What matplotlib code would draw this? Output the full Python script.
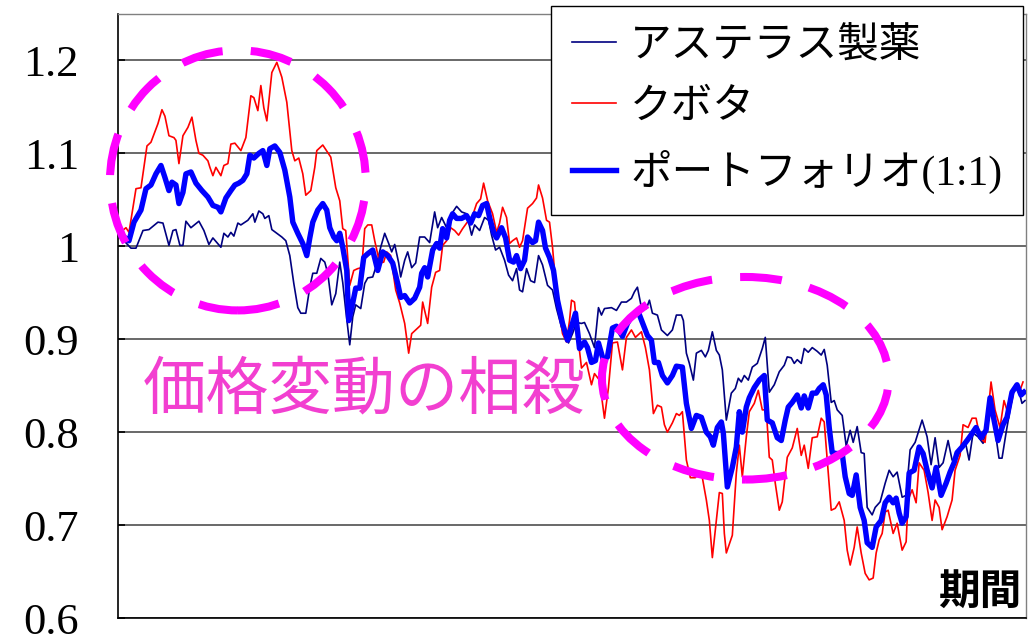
import matplotlib
matplotlib.use('Agg')
import matplotlib.pyplot as plt
from matplotlib.patches import Ellipse

plt.rcParams['font.family'] = ['Liberation Serif', 'Noto Sans CJK JP']

# アステラス製薬 (営業日, 相対価格)
astellas_day = [0, 1.25, 3, 4.25, 6, 7.5, 9.75, 11, 12.5, 13.5, 14.25, 15.25, 16, 16.75, 18, 20,
                21.25, 22.5, 23.5, 25.5, 26.25, 27.25, 28, 28.75, 29.75, 30.5, 32.25, 33.5, 34, 35,
                36, 36.5, 37.5, 38.25, 39.5, 40.75, 41.75, 42.75, 43.75, 44.75, 45.5, 46.75, 47.75,
                48.5, 49.5, 50.5, 51.5, 52.25, 53.25, 54.25, 55.25, 56, 56.75, 57.75, 58.5, 59.25,
                60.5, 61.5, 62.25, 63.5, 64.25, 65.5, 66.5, 67.5, 68.25, 69, 70, 70.5, 71.5, 72.25,
                73.25, 74.25, 75.25, 76.5, 77.75, 79, 79.75, 80.75, 82, 83.25, 84.5, 85.75, 87,
                88.25, 89, 90.25, 91.5, 92.5, 93.25, 94.25, 95.25, 96.5, 97.5, 98.5, 99.5, 100.25,
                101, 102, 103, 104, 105, 106, 107.25, 108.5, 109.5, 110.75, 112, 112.5, 113.5,
                114.5, 115.75, 116.5, 117.75, 119, 120, 120.75, 121.5, 123.25, 124.5, 125.75, 127,
                128.25, 129, 129.75, 130.75, 132, 132.75, 133.5, 134.75, 135.75, 137.25, 138.5,
                139.5, 140.75, 141.25, 142, 142.75, 143.75, 144.5, 145.75, 146.75, 147.5, 148.5,
                149.5, 150.25, 151, 152, 153.25, 154.25, 155, 155.75, 156.5, 157.5, 158.5, 159.75,
                161, 161.75, 162.75, 164, 165.25, 166.5, 167.25, 168.25, 169, 169.75, 170.75,
                171.5, 172.5, 173.5, 174.75, 175.75, 176.5, 177.25, 178.25, 179, 179.75, 181, 182,
                183, 183.75, 184.75, 185.75, 186.5, 187.25, 188.5, 189.25, 190.5, 191.75, 192.75,
                193.75, 194.75, 196, 197, 198, 199.25, 201, 202.25, 203.25, 204.25, 205.25, 206.25,
                207.5, 208.5, 209.75, 211, 211.75, 212.75, 213.75, 215, 216.25, 217.5, 218.25,
                219.25, 220.25, 221, 222, 223, 224, 225, 226, 226.75]
astellas = [1.010, 1.006, 0.998, 0.998, 1.017, 1.018, 1.026, 1.025, 1.001, 1.017, 1.018, 1.001,
            1.001, 1.027, 1.020, 1.027, 1.017, 1.002, 1.009, 0.999, 1.014, 1.010, 1.015, 1.011,
            1.025, 1.023, 1.028, 1.035, 1.026, 1.038, 1.035, 1.030, 1.033, 1.018, 1.014, 1.010,
            1.006, 0.990, 0.960, 0.934, 0.928, 0.928, 0.956, 0.971, 0.971, 0.987, 0.983, 0.971,
            0.937, 0.949, 0.983, 0.961, 0.931, 0.894, 0.924, 0.937, 0.933, 0.960, 0.966, 0.967,
            0.977, 0.999, 1.014, 1.003, 0.994, 1.002, 0.982, 0.967, 0.985, 0.994, 0.977, 0.982,
            1.010, 1.010, 1.004, 1.037, 1.020, 1.031, 1.020, 1.035, 1.043, 1.037, 1.035, 1.012,
            1.023, 1.017, 1.031, 1.028, 1.012, 0.996, 0.999, 0.985, 0.969, 0.963, 0.976, 0.953,
            0.951, 0.976, 0.963, 0.961, 0.990, 0.980, 0.958, 0.953, 0.933, 0.913, 0.902, 0.896,
            0.906, 0.918, 0.917, 0.918, 0.906, 0.891, 0.934, 0.926, 0.933, 0.934, 0.931, 0.940,
            0.940, 0.944, 0.951, 0.956, 0.934, 0.933, 0.942, 0.928, 0.926, 0.910, 0.904, 0.910,
            0.926, 0.926, 0.920, 0.885, 0.874, 0.856, 0.885, 0.888, 0.881, 0.888, 0.908, 0.888,
            0.883, 0.867, 0.813, 0.842, 0.847, 0.858, 0.854, 0.861, 0.856, 0.870, 0.874, 0.890,
            0.902, 0.843, 0.851, 0.865, 0.872, 0.881, 0.880, 0.874, 0.878, 0.874, 0.890, 0.886,
            0.891, 0.887, 0.883, 0.889, 0.872, 0.832, 0.834, 0.824, 0.818, 0.785, 0.802, 0.789,
            0.806, 0.778, 0.777, 0.719, 0.711, 0.719, 0.725, 0.745, 0.759, 0.752, 0.757, 0.730,
            0.732, 0.781, 0.789, 0.813, 0.795, 0.765, 0.794, 0.762, 0.767, 0.791, 0.770, 0.773,
            0.783, 0.791, 0.770, 0.799, 0.795, 0.788, 0.813, 0.837, 0.802, 0.772, 0.772, 0.799,
            0.824, 0.847, 0.848, 0.831, 0.834]

# クボタ
kubota_day = [0, 1.75, 2.5, 4.25, 5.5, 7, 8, 9.75, 10.75, 11.5, 12.5, 13.75, 14.25, 15, 16, 17.25,
              18.25, 19.25, 20, 21, 22.25, 22.75, 23.5, 24.25, 25.5, 26.25, 27.25, 28, 29, 30.5,
              31.75, 33, 33.75, 34.75, 35.5, 36.25, 37, 38.25, 39.5, 40.75, 42, 43.25, 44, 45, 46,
              46.75, 48, 49, 49.5, 51, 52.25, 53, 54.25, 55.25, 56, 56.75, 57.75, 58.75, 59.75,
              60.75, 61.5, 62.25, 63.25, 64, 65.25, 66.25, 67, 68, 69.25, 70.25, 71.5, 72.5, 73.25,
              74.25, 75.5, 76, 77.25, 78.25, 79.25, 80.25, 81, 82, 83, 84, 85, 86, 87, 88, 88.5,
              89.5, 90.5, 91.25, 92.25, 93.5, 94.5, 95.25, 96, 97, 97.75, 98.5, 99.5, 100.25, 101,
              102.25, 103.5, 104.5, 105, 106, 107, 107.75, 108.5, 109.5, 110.25, 111, 112, 112.75,
              113.25, 114, 114.75, 115.75, 117, 118.25, 119, 120.25, 121.5, 122.5, 123.5, 124.75,
              126, 127, 128.25, 129.25, 130.75, 131.75, 132.75, 133.75, 134.75, 135.75, 136.5,
              137.25, 138.5, 139.5, 140.25, 141, 142, 143, 144.25, 145, 146, 147, 147.75, 148.5,
              149.5, 150.25, 151, 151.5, 152, 153.5, 154.5, 155.25, 156, 157, 157.75, 159, 160,
              161, 162, 162.75, 163.5, 164.25, 165.25, 166, 167.25, 168.5, 169.75, 170.75, 171.5,
              172.5, 173.5, 174.75, 175.75, 176.5, 177.25, 178.25, 179.25, 180.25, 181.5, 182.25,
              183, 184, 184.75, 185.75, 186.75, 187.75, 188.75, 189.5, 190.25, 191, 191.75, 192.5,
              193.75, 194.75, 196, 197, 197.5, 198.5, 199.5, 200.25, 201.5, 202.5, 203.5, 204.25,
              205.25, 206, 207.25, 208.5, 209.25, 210.5, 211.25, 212.5, 213.5, 214.5, 215.5,
              216.75, 218.25, 219.25, 220.5, 221.5, 222.5, 223.5, 224.25, 225.25, 226.25]
kubota = [1.014, 1.020, 1.015, 1.062, 1.063, 1.108, 1.112, 1.132, 1.147, 1.140, 1.119, 1.117,
          1.114, 1.089, 1.119, 1.128, 1.139, 1.114, 1.100, 1.098, 1.092, 1.085, 1.076, 1.085,
          1.076, 1.087, 1.089, 1.110, 1.111, 1.103, 1.117, 1.162, 1.160, 1.146, 1.173, 1.149,
          1.135, 1.187, 1.198, 1.182, 1.155, 1.103, 1.092, 1.095, 1.078, 1.055, 1.060, 1.085,
          1.103, 1.109, 1.101, 1.096, 1.063, 1.049, 1.019, 1.017, 0.958, 0.974, 0.976, 0.977,
          1.019, 1.023, 1.023, 1.006, 0.982, 0.983, 0.994, 0.990, 0.953, 0.939, 0.917, 0.885,
          0.906, 0.910, 0.915, 0.940, 0.917, 0.956, 0.972, 0.974, 1.001, 1.006, 1.020, 1.017,
          1.012, 1.019, 1.025, 1.030, 1.033, 1.046, 1.051, 1.068, 1.049, 1.035, 1.015, 1.025,
          1.042, 1.031, 1.003, 1.006, 1.009, 0.999, 1.006, 1.041, 1.046, 1.052, 1.066, 1.052,
          1.028, 1.026, 0.999, 0.949, 0.928, 0.906, 0.897, 0.920, 0.942, 0.940, 0.906, 0.869,
          0.875, 0.851, 0.863, 0.856, 0.815, 0.848, 0.896, 0.897, 0.867, 0.902, 0.910, 0.902,
          0.908, 0.891, 0.867, 0.820, 0.829, 0.827, 0.808, 0.800, 0.810, 0.820, 0.818, 0.822,
          0.770, 0.751, 0.751, 0.756, 0.751, 0.727, 0.705, 0.665, 0.705, 0.735, 0.734, 0.691,
          0.670, 0.689, 0.756, 0.786, 0.752, 0.795, 0.822, 0.831, 0.845, 0.824, 0.824, 0.773,
          0.770, 0.745, 0.716, 0.725, 0.773, 0.783, 0.804, 0.775, 0.786, 0.761, 0.794, 0.795,
          0.815, 0.811, 0.770, 0.716, 0.718, 0.725, 0.705, 0.673, 0.657, 0.676, 0.698, 0.670,
          0.648, 0.641, 0.643, 0.670, 0.684, 0.691, 0.714, 0.716, 0.691, 0.702, 0.673, 0.682,
          0.727, 0.738, 0.724, 0.767, 0.759, 0.735, 0.705, 0.727, 0.719, 0.695, 0.709, 0.727,
          0.759, 0.775, 0.808, 0.805, 0.815, 0.815, 0.794, 0.789, 0.854, 0.824, 0.805, 0.834,
          0.820, 0.834, 0.851, 0.842, 0.854]

# ポートフォリオ(1:1)
port_day = [0, 1.25, 2.5, 3.75, 5.5, 6.75, 8, 9.25, 10.5, 11.5, 12.5, 13.25, 14.25, 15, 16, 16.75,
            18, 19.25, 20.75, 22.25, 23.5, 24.75, 25.5, 26.75, 28, 29, 30, 31, 32, 32.75, 33.75,
            35, 36, 37, 37.75, 39, 40.25, 41.5, 42.75, 43.5, 44.75, 46, 47, 47.75, 48.5, 49.75,
            51, 52, 52.75, 53.75, 54.5, 55.25, 56, 57, 57.5, 58.5, 59.25, 60.25, 61.25, 62.25,
            63.5, 64.75, 66, 67.25, 68.5, 69.75, 70.5, 71.5, 72.75, 74, 75.25, 75.75, 76.5,
            77.25, 78.5, 79.5, 80.25, 81, 82, 82.75, 83.5, 84.5, 85.75, 87, 88, 89, 90, 91, 92,
            92.75, 93.75, 94.5, 95.75, 96.75, 97.75, 98.75, 99.5, 100.5, 101.5, 102.25, 103.5,
            104.25, 105, 106, 106.75, 107.75, 108.75, 109.75, 111, 112.25, 113.5, 114.25, 115.25,
            116.5, 117.25, 118.25, 119.25, 120, 121.25, 122.25, 123.5, 124.5, 126, 127.25, 128.5,
            130, 131, 132.25, 133.25, 134, 135, 136, 137.25, 138.5, 139.5, 141, 142, 143.25,
            144.5, 145.75, 147, 148, 148.75, 149.75, 150.75, 151.25, 152.25, 153.5, 154.5,
            155.25, 156, 157, 157.75, 159, 160.25, 161.5, 162.25, 163.5, 164.75, 165.75, 166.75,
            167.5, 168.5, 169.75, 170.75, 171.5, 172.5, 173.5, 174.5, 175.25, 176.25, 177,
            177.75, 178.5, 179.5, 181, 181.75, 182.75, 183.5, 184.5, 185.5, 186.5, 187.25,
            188.5, 189.5, 190.75, 191.75, 192.75, 193.75, 194.5, 195.25, 196, 197, 197.75, 199,
            200.25, 201.25, 202.25, 203.5, 204.5, 205.75, 207, 208, 209, 209.75, 211, 212.25,
            213.25, 214.5, 215.75, 217, 218, 219, 220, 221.25, 222.25, 223.5, 224.75, 225.75,
            226.5]
port = [1.015, 1.010, 1.006, 1.026, 1.039, 1.062, 1.066, 1.078, 1.087, 1.074, 1.060, 1.069,
        1.066, 1.046, 1.058, 1.078, 1.080, 1.068, 1.060, 1.053, 1.044, 1.042, 1.037, 1.052,
        1.060, 1.066, 1.068, 1.071, 1.078, 1.098, 1.095, 1.100, 1.103, 1.087, 1.105, 1.108,
        1.101, 1.082, 1.053, 1.026, 1.014, 1.003, 0.990, 1.009, 1.026, 1.039, 1.046, 1.039,
        1.020, 1.010, 1.006, 1.014, 0.999, 0.974, 0.920, 0.939, 0.955, 0.955, 0.988, 0.992,
        0.996, 0.974, 0.994, 0.990, 0.982, 0.960, 0.945, 0.947, 0.939, 0.944, 0.956, 0.971,
        0.977, 0.967, 0.996, 1.003, 0.998, 1.019, 1.009, 1.028, 1.035, 1.030, 1.030, 1.033,
        1.025, 1.035, 1.033, 1.044, 1.046, 1.031, 1.015, 1.009, 1.020, 1.009, 0.985, 0.983,
        0.990, 0.976, 0.985, 1.010, 1.004, 1.006, 1.026, 1.017, 0.998, 0.988, 0.974, 0.942,
        0.917, 0.899, 0.917, 0.928, 0.890, 0.897, 0.891, 0.875, 0.877, 0.896, 0.877, 0.881,
        0.912, 0.914, 0.903, 0.917, 0.926, 0.929, 0.918, 0.904, 0.899, 0.875, 0.875, 0.861,
        0.853, 0.861, 0.871, 0.870, 0.831, 0.804, 0.818, 0.816, 0.800, 0.795, 0.786, 0.805,
        0.811, 0.799, 0.741, 0.762, 0.784, 0.822, 0.800, 0.827, 0.837, 0.848, 0.856, 0.861,
        0.813, 0.810, 0.794, 0.791, 0.813, 0.827, 0.832, 0.840, 0.826, 0.839, 0.826, 0.842,
        0.842, 0.847, 0.851, 0.840, 0.805, 0.778, 0.777, 0.777, 0.752, 0.734, 0.732, 0.754,
        0.719, 0.705, 0.681, 0.676, 0.698, 0.705, 0.724, 0.730, 0.724, 0.729, 0.713, 0.702,
        0.709, 0.756, 0.759, 0.784, 0.777, 0.759, 0.740, 0.762, 0.732, 0.745, 0.757, 0.767,
        0.778, 0.784, 0.791, 0.797, 0.805, 0.794, 0.802, 0.837, 0.813, 0.791, 0.808, 0.816,
        0.843, 0.851, 0.840, 0.843]

yticks = [0.6, 0.7, 0.8, 0.9, 1.0, 1.1, 1.2]
ytick_labels = ['0.6', '0.7', '0.8', '0.9', '1', '1.1', '1.2']
labels = ['アステラス製薬', 'クボタ', 'ポートフォリオ(1:1)']

fig = plt.figure(figsize=(10.28, 6.37), dpi=100)
ax = fig.add_axes([118 / 1028, 1 - 618 / 637, 908 / 1028, 604 / 637])

ax.plot(astellas_day, astellas, color='#000080', lw=1.2, label=labels[0], zorder=3)
ax.plot(kubota_day, kubota, color='#ff0000', lw=1.2, label=labels[1], zorder=3)
ax.plot(port_day, port, color='#0000ff', lw=3.9, label=labels[2], zorder=4)

ax.set_xlim(-0.25, 227)
ax.set_ylim(0.6, 1.25)
ax.set_yticks(yticks)
ax.set_yticklabels(ytick_labels, fontsize=32)
ax.set_xticks([])
ax.tick_params(axis='y', direction='in', length=5, width=1.2, pad=28)
ax.yaxis.grid(True, color='#404040', lw=1.1)
ax.set_axisbelow(True)
for s in ['left', 'bottom']:
    ax.spines[s].set_color('black')
    ax.spines[s].set_linewidth(1.2)
for s in ['top', 'right']:
    ax.spines[s].set_color('#808080')
    ax.spines[s].set_linewidth(1.0)

# 点線の楕円
e1 = Ellipse((29.75, 1.071), 64, 0.28, fill=False, edgecolor='#ff00ff', lw=5.8,
             linestyle=(0, (5.2, 3.5)), clip_on=False, zorder=5)
e2 = Ellipse((156.75, 0.858), 71.75, 0.218, fill=False, edgecolor='#ff00ff', lw=5.8,
             linestyle=(0, (5.2, 3.5)), clip_on=False, zorder=5)
ax.add_patch(e1)
ax.add_patch(e2)

ax.text(364 / 1028, 1 - 390 / 637, '価格変動の相殺', transform=fig.transFigure,
        fontsize=45.5, color='#f23fd0', family='Noto Sans CJK JP', ha='center', va='center', zorder=6)
ax.text(1021 / 1028, 1 - 592 / 637, '期間', transform=fig.transFigure, fontsize=30,
        fontweight='bold', family='Noto Sans CJK JP', ha='right', va='center', zorder=6)

leg = fig.legend(loc='upper left', bbox_to_anchor=(551 / 1028, 1 - 6 / 637), fontsize=30,
                 frameon=True, fancybox=False, edgecolor='black', framealpha=1,
                 handlelength=1.05, handletextpad=0.35, labelspacing=0.55, borderpad=0.5,
                 borderaxespad=0)
leg.get_frame().set_linewidth(1.0)
leg.set_zorder(10)

fig.savefig('out.png', dpi=100)
